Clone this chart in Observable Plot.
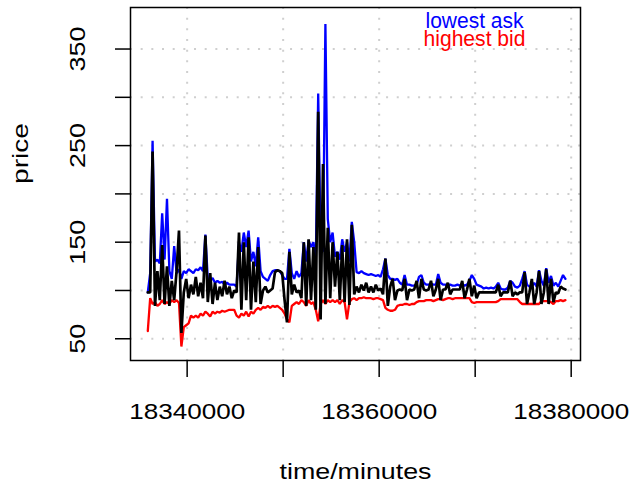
<!DOCTYPE html>
<html><head><meta charset="utf-8">
<script src="https://cdn.jsdelivr.net/npm/d3@7"></script>
<script src="https://cdn.jsdelivr.net/npm/@observablehq/plot@0.6"></script>
<style>body{margin:0;background:#fff;} svg{display:block;}</style>
</head><body><div id="chart"></div>
<script>
const minutes = [
18335900, 18336150, 18336400, 18336650, 18336900, 18337150, 18337400, 18337650, 18337900, 18338150,
18338400, 18338650, 18338900, 18339150, 18339400, 18339650, 18339900, 18340150, 18340400, 18340650,
18340900, 18341150, 18341400, 18341650, 18341900, 18342150, 18342400, 18342650, 18342900, 18343150,
18343400, 18343650, 18343900, 18344150, 18344400, 18344650, 18344900, 18345150, 18345400, 18345650,
18345900, 18346150, 18346400, 18346650, 18346900, 18347150, 18347400, 18347650, 18347900, 18348150,
18348400, 18348650, 18348900, 18349150, 18349400, 18349650, 18349900, 18350150, 18350400, 18350650,
18350900, 18351150, 18351400, 18351650, 18351900, 18352150, 18352400, 18352650, 18352900, 18353150,
18353400, 18353650, 18353900, 18354150, 18354400, 18354650, 18354900, 18355150, 18355400, 18355650,
18355900, 18356150, 18356400, 18356650, 18356900, 18357150, 18357400, 18357650, 18357900, 18358150,
18358400, 18358650, 18358900, 18359150, 18359400, 18359650, 18359900, 18360150, 18360400, 18360650,
18360900, 18361150, 18361400, 18361650, 18361900, 18362150, 18362400, 18362650, 18362900, 18363150,
18363400, 18363650, 18363900, 18364150, 18364400, 18364650, 18364900, 18365150, 18365400, 18365650,
18365900, 18366150, 18366400, 18366650, 18366900, 18367150, 18367400, 18367650, 18367900, 18368150,
18368400, 18368650, 18368900, 18369150, 18369400, 18369650, 18369900, 18370150, 18370400, 18370650,
18370900, 18371150, 18371400, 18371650, 18371900, 18372150, 18372400, 18372650, 18372900, 18373150,
18373400, 18373650, 18373900, 18374150, 18374400, 18374650, 18374900, 18375150, 18375400, 18375650,
18375900, 18376150, 18376400, 18376650, 18376900, 18377150, 18377400, 18377650, 18377900, 18378150,
18378400, 18378650, 18378900, 18379150, 18379400
];
const lowestAsk = [
98, 118, 255, 130, 132, 128, 180, 132, 195, 120,
112, 146, 118, 122, 112, 120, 118, 122, 120, 118,
122, 121, 124, 120, 158, 112, 110, 113, 108, 110,
108, 109, 106, 108, 106, 106, 106, 104, 150, 140,
160, 145, 162, 130, 140, 125, 155, 120, 114, 112,
110, 116, 120, 121, 121, 120, 116, 112, 112, 143,
118, 112, 120, 114, 118, 150, 130, 152, 145, 150,
130, 304, 150, 140, 376, 174, 150, 160, 135, 140,
132, 153, 140, 150, 130, 171, 150, 119, 118, 120,
118, 117, 116, 117, 116, 115, 116, 114, 122, 133,
116, 112, 112, 111, 112, 108, 106, 116, 106, 106,
105, 105, 106, 114, 116, 108, 106, 106, 107, 106,
106, 117, 108, 106, 106, 105, 106, 105, 105, 106,
105, 106, 105, 106, 110, 116, 112, 106, 105, 104,
102, 103, 102, 103, 102, 104, 108, 102, 101, 101,
103, 110, 108, 104, 103, 105, 112, 120, 106, 104,
104, 108, 104, 121, 110, 105, 123, 108, 115, 105,
108, 104, 110, 116, 112
];
const highestBid = [
58, 92, 86, 88, 84, 86, 90, 86, 88, 86,
90, 88, 90, 87, 42, 62, 64, 66, 74, 72,
74, 72, 76, 74, 78, 76, 73, 78, 76, 78,
77, 79, 78, 79, 80, 80, 80, 74, 72, 76,
74, 78, 73, 78, 76, 80, 82, 80, 83, 82,
84, 82, 84, 83, 84, 82, 80, 76, 70, 67,
84, 86, 88, 86, 90, 88, 84, 90, 86, 88,
80, 68, 86, 90, 86, 90, 88, 90, 88, 90,
86, 90, 88, 70, 88, 91, 92, 90, 92, 92,
93, 92, 92, 92, 91, 92, 92, 91, 90, 82,
80, 79, 79, 80, 84, 85, 85, 86, 86, 85,
86, 86, 88, 89, 89, 89, 90, 90, 90, 89,
90, 91, 91, 90, 91, 92, 92, 91, 92, 92,
92, 92, 92, 92, 92, 88, 87, 88, 88, 88,
88, 88, 88, 88, 88, 88, 89, 91, 91, 91,
91, 91, 91, 91, 91, 88, 86, 86, 86, 86,
86, 86, 86, 86, 89, 89, 89, 89, 88, 86,
89, 89, 90, 89, 90
];
const midPrice = [
98, 98, 244, 84, 120, 90, 147, 86, 125, 84,
110, 90, 120, 162, 56, 98, 112, 92, 106, 96,
114, 94, 108, 92, 157, 88, 118, 86, 108, 90,
104, 94, 110, 96, 104, 92, 100, 98, 160, 80,
150, 90, 155, 80, 130, 88, 145, 86, 100, 104,
98, 100, 102, 119, 121, 120, 118, 90, 67, 140,
96, 106, 98, 100, 92, 150, 84, 153, 90, 145,
80, 285, 70, 231, 86, 165, 92, 150, 104, 140,
90, 147, 88, 153, 85, 168, 96, 104, 98, 106,
100, 108, 98, 104, 98, 106, 100, 102, 96, 133,
84, 104, 112, 90, 100, 101, 100, 112, 90, 101,
100, 101, 110, 92, 112, 101, 100, 101, 110, 94,
101, 112, 90, 101, 101, 108, 96, 101, 101, 101,
101, 110, 92, 101, 112, 94, 105, 92, 98, 98,
98, 98, 98, 98, 98, 98, 106, 94, 98, 98,
98, 110, 94, 98, 96, 98, 98, 119, 86, 98,
112, 86, 98, 120, 86, 98, 122, 86, 112, 88,
98, 97, 104, 102, 101
];
const xTicks = [18340000, 18350000, 18360000, 18370000, 18380000];
const xTickLabels = ["18340000", "", "18360000", "", "18380000"];
const yTicks = [50, 100, 150, 200, 250, 300, 350];
const yTickLabels = ["50", "", "150", "", "250", "", "350"];
const legendLabels = ["lowest ask", "highest bid"];
const xTitle = "time/minutes";
const yTitle = "price";
const seriesColors = ["#0000ff", "#ff0000", "#000000"];

// rendered text lengths (px) to mimic the wide R/Helvetica glyphs
const textLengths = {"18340000":116, "18360000":116, "18380000":116, "50":30, "150":45, "250":45, "350":45,
  "time/minutes":152, "price":61, "lowest ask":98, "highest bid":102};

const rows = (vals) => minutes.map((t, i) => ({t, v: vals[i]}));
const lineOpts = (c, w) => ({x: "t", y: "v", stroke: c, strokeWidth: w, strokeLinejoin: "miter", curve: "linear"});
const grid = {stroke: "#cfcfcf", strokeOpacity: 1, strokeWidth: 2, strokeDasharray: "2,8.67"};

const chart = Plot.plot({
  width: 629, height: 484,
  marginLeft: 130, marginRight: 49, marginTop: 7, marginBottom: 124,
  style: {fontFamily: "'Liberation Sans', Arial, Helvetica, sans-serif", fontSize: "22px", background: "white", color: "black"},
  x: {domain: [18334100, 18380970]},
  y: {domain: [27.5, 393]},
  marks: [
    Plot.gridX(xTicks, grid),
    Plot.gridY(yTicks, grid),
    Plot.line(rows(lowestAsk), lineOpts(seriesColors[0], 2.3)),
    Plot.line(rows(highestBid), lineOpts(seriesColors[1], 2.3)),
    Plot.line(rows(midPrice), lineOpts(seriesColors[2], 2.7)),
    Plot.frame({stroke: "black", strokeWidth: 1.5}),
    Plot.axisX({ticks: xTicks, tickSize: 17, tickPadding: 26, strokeWidth: 1.5,
      tickFormat: d => xTickLabels[xTicks.indexOf(d)], fontSize: 22, label: null}),
    Plot.axisY({ticks: yTicks, tickSize: 15, strokeWidth: 1.5, tickFormat: () => "", label: null}),
    Plot.axisY({ticks: yTicks, tickSize: 0, tickPadding: 53, rotate: -90, textAnchor: "middle",
      tickFormat: d => yTickLabels[yTicks.indexOf(d)], fontSize: 22, label: null}),
    Plot.text([xTitle], {text: d => d, frameAnchor: "bottom", dy: 118, fontSize: 22}),
    Plot.text([yTitle], {text: d => d, frameAnchor: "left", dx: -110, rotate: -90, fontSize: 22}),
    Plot.text([legendLabels[0]], {text: d => d, frameAnchor: "top-right", textAnchor: "middle", dx: -106, dy: 5, lineAnchor: "top", fill: seriesColors[0], fontSize: 22}),
    Plot.text([legendLabels[1]], {text: d => d, frameAnchor: "top-right", textAnchor: "middle", dx: -106, dy: 22.5, lineAnchor: "top", fill: seriesColors[1], fontSize: 22})
  ]
});
chart.querySelectorAll("text").forEach(t => {
  const s = t.textContent.trim();
  if (textLengths[s]) { t.setAttribute("textLength", textLengths[s]); t.setAttribute("lengthAdjust", "spacingAndGlyphs"); }
});
document.getElementById("chart").appendChild(chart);
</script>
</body></html>
